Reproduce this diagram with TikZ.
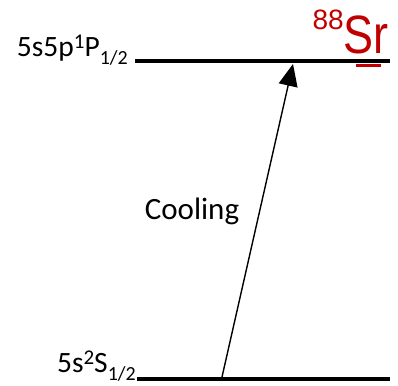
\documentclass[tikz,border=0pt]{standalone}
\usepackage{fontspec}
\usepackage{graphicx}
\setmainfont{Carlito}
\newfontfamily\arialf{Liberation Sans}
\usetikzlibrary{arrows.meta}
\definecolor{srred}{HTML}{C00000}
\newcommand{\supx}[1]{\raisebox{8pt}{\fontsize{21}{22}\selectfont #1}}
\newcommand{\subx}[1]{\raisebox{-8pt}{\fontsize{20}{22}\selectfont #1}}
\begin{document}
\begin{tikzpicture}[x=1pt,y=-1pt,
  level/.style={line width=4.5pt},
  lbl/.style={inner sep=0pt,font=\fontsize{29.5}{32}\selectfont},
  trans/.style={line width=1.4pt,-{Triangle[length=22pt,width=19pt]}}]
\useasboundingbox (0,0) rectangle (398,385);
% levels
\coordinate (tL) at (135,61);
\coordinate (tR) at (390,61);
\coordinate (bL) at (137,379);
\coordinate (bR) at (390,379);
\draw[level] (tL) -- (tR);
\draw[level] (bL) -- (bR);
% labels
\node[lbl,anchor=base east] (top) at (128,57) {5s5p\supx{1}P\subx{1/2}};
\node[lbl,anchor=base east] (bot) at (136,372) {5s\supx{2}S\subx{1/2}};
% red mark
\coordinate (r1) at (356,65.5);
\coordinate (r2) at (381,65.5);
\draw[srred,line width=3pt] (r1) -- (r2);
% Sr label
\node[inner sep=0pt,anchor=base east,text=srred] (sr) at (389,54)
  {\raisebox{24pt}{\fontsize{28}{30}\arialf 88}\scalebox{1}[1.2]{\fontsize{45}{50}\arialf Sr}};
% transition
\coordinate (g) at (222,377);
\coordinate (e) at (293,64);
\draw[trans] (g) -- (e);
\node[lbl,font=\fontsize{31}{34}\selectfont] (cool) at (192,211) {Cooling};
\end{tikzpicture}
\end{document}
